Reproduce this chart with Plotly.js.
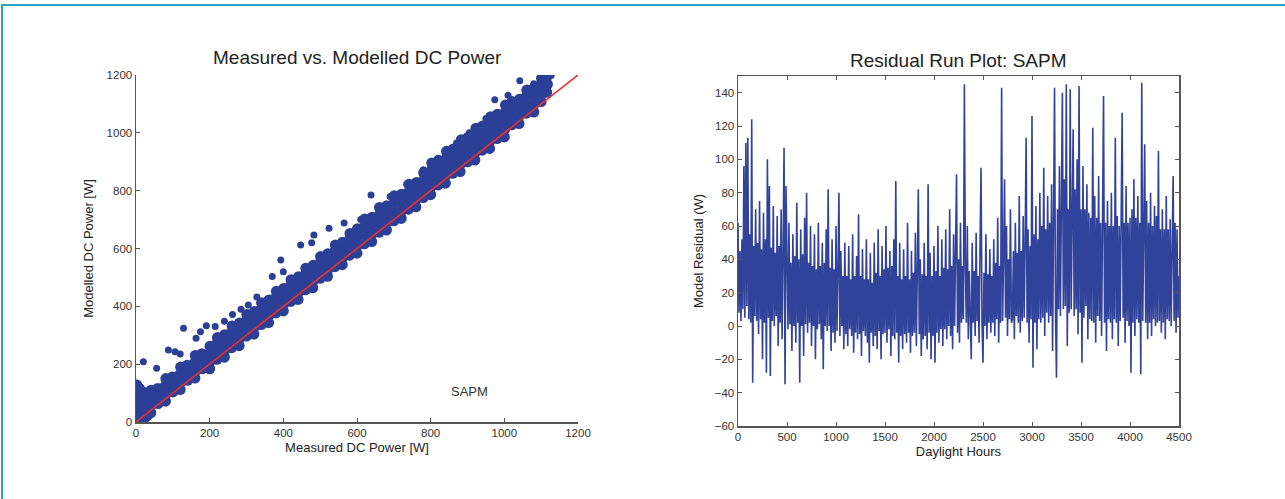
<!DOCTYPE html>
<html>
<head>
<meta charset="utf-8">
<script src="https://cdn.plot.ly/plotly-3.0.1.min.js"></script>
<style>
  html, body { margin: 0; padding: 0; background: #ffffff; }
  #frame { position: absolute; left: 1px; top: 4px; width: 1300px; height: 520px;
           border-top: 2px solid #2b9fcd; border-left: 2px solid #2b9fcd; }
  #chart { position: absolute; left: 0; top: 0; width: 1285px; height: 499px; }
</style>
</head>
<body>
<div id="frame"></div>
<div id="chart"></div>
<script>
// ---------- Left panel: measured vs modelled DC power (W) ----------
const measuredW = [
  0,1,0,2,1,3,2, 5,6,4,7,5,8, 10,11,12,10,13,11, 18,17,20,19,21, 24,26,25,27, 30,31,33,32,
  40,42,39,41, 60,62,59, 80,82,79,81, 100,102,99, 120,122,119,121, 140,142,139, 160,162,159,161, 180,182,179,
  200,202,199,201, 220,222,219,221, 240,242,239,241, 260,262,259,261, 280,282,279,281,
  300,302,299,301, 320,322,319,321, 340,342,339,341, 360,362,359,361, 380,382,379,381,
  400,402,399,401, 420,422,419,421, 440,442,439,441, 460,462,459,461, 480,482,479,481,
  500,502,499,501, 520,522,519,521, 540,542,539,541, 560,562,559,561, 580,582,579,581,
  600,602,599,601, 620,622,619,621, 640,642,639,641, 660,662,659,661, 680,682,679,681,
  700,702,699,701, 720,722,719,721, 740,742,739,741, 760,762,759,761, 780,782,779,781,
  800,802,799,801,803, 820,822,819,821, 840,842,839,841,843, 860,862,859,861, 880,882,879,881,883,
  900,902,899,901, 920,922,919,921,923, 940,942,939,941, 960,962,959,961,963, 980,982,979,981,
  1000,1002,999,1001,1003, 1020,1022,1019,1021, 1040,1042,1039,1041, 1060,1062,1059,1061,
  1080,1082,1079,1081, 1100,1102,1099,1101, 1115,1117,1114
];
const modelledW = [
  0,18,40,62,85,108,128, 5,30,52,75,98,118, 3,24,46,70,92,112, 10,35,58,80,102, 15,40,64,88, 22,48,70,95,
  32,58,84,110, 64,90,116, 72,98,124,150, 104,130,156, 112,138,164,190, 144,170,196, 152,178,204,230, 184,210,236,
  184,210,236,262, 217,243,269,292, 224,250,276,302, 257,283,309,332, 264,290,316,342,
  297,323,349,372, 304,330,356,382, 337,363,389,412, 344,370,396,422, 377,403,429,452,
  384,410,436,462, 417,443,469,492, 424,450,476,502, 457,483,509,532, 464,490,516,542,
  497,523,549,572, 504,530,556,582, 537,563,589,612, 544,570,596,622, 577,603,629,652,
  584,612,640,668, 616,646,674,702, 624,652,680,708, 656,686,714,742, 664,692,720,748,
  696,726,754,782, 704,732,760,788, 736,766,794,822, 744,772,800,828, 776,806,834,862,
  786,814,842,870,896, 820,848,876,904, 826,854,882,910,936, 860,888,916,944, 866,894,922,950,976,
  900,928,956,984, 906,934,962,990,1016, 940,968,996,1024, 946,974,1002,1030,1056, 980,1008,1036,1064,
  986,1014,1042,1070,1096, 1028,1056,1084,1108, 1032,1060,1088,1116, 1068,1096,1124,1148,
  1072,1100,1128,1156, 1108,1136,1164,1188, 1140,1168,1190
];
const outlierMeasuredW = [20,56,88,106,129,191,163,120,175,215,240,262,285,305,328,370,393,400,447,477,483,524,565,638,610,690,735,780,820,870,905,950,974,1010,1042,1080,1127];
const outlierModelledW = [208,186,249,243,324,333,290,235,312,330,348,372,390,405,432,503,560,520,612,620,647,670,688,785,700,780,822,872,912,965,1000,1050,1114,1130,1180,1170,1198];
const referenceLineW = [0, 1200];
const powerTicks = [0, 200, 400, 600, 800, 1000, 1200];

// ---------- Right panel: residual run plot (W), one value every 10 daylight hours ----------
const residualW = [
  62,8,45,3,52,10,96,5,110,12,
  113,4,55,2,124,-34,48,6,70,3,
  50,-5,75,4,46,-20,68,2,52,-28,
  100,5,84,-30,47,3,72,0,44,6,
  66,-12,48,2,70,-8,45,107,-35,84,
  40,-2,62,1,38,-15,55,0,42,-10,
  74,2,40,-34,58,0,43,-18,65,1,
  80,-4,38,2,60,-12,36,0,55,-20,
  34,-2,62,1,36,-8,50,-26,38,0,
  58,-3,82,0,35,-15,52,-4,34,-10,
  60,-3,32,80,-6,45,0,30,-14,50,
  -5,30,-12,48,-2,28,-6,55,-16,30,
  -4,42,-8,67,-5,30,-18,46,-3,28,
  -6,52,-10,28,-22,44,-4,26,-12,50,
  -6,32,-14,58,-3,30,-20,48,-5,34,
  -4,60,-10,35,-2,45,-18,36,-6,52,
  -8,87,-4,30,-22,50,-6,28,-14,46,
  -5,30,-10,62,-4,28,-16,45,-6,32,
  -4,56,-12,33,82,-5,40,-18,31,-8,
  50,-6,30,-14,85,-4,44,-20,30,-6,
  48,-22,33,-4,60,-10,30,-2,52,-12,
  35,-2,58,-8,34,0,70,-6,36,-14,
  55,0,38,91,-4,40,-10,62,2,36,
  4,145,35,2,60,-8,33,3,-20,50,
  2,33,-6,56,3,30,-10,48,95,2,
  -22,32,0,55,-8,31,2,46,-4,30,
  2,52,-6,38,4,65,-10,36,2,143,
  3,42,88,5,60,-6,40,4,70,2,
  4,45,-8,62,6,44,2,78,-4,45,
  3,66,5,50,113,2,58,-10,48,4,
  126,-25,55,2,72,-14,52,4,80,2,
  60,5,95,-6,58,8,78,2,62,6,
  85,-15,65,143,8,-31,70,10,96,6,
  72,140,10,88,12,145,-12,70,8,142,
  10,75,118,6,82,10,100,-5,144,8,
  70,-22,96,5,70,12,85,-8,68,4,
  65,3,119,2,78,-10,65,6,90,3,
  62,-6,88,138,2,62,-15,75,4,60,
  2,80,-8,60,4,113,2,66,-12,60,
  3,72,128,5,62,-10,84,3,62,0,
  65,-28,70,2,88,-6,65,4,78,2,
  62,-29,146,3,62,109,2,75,-8,62,
  2,80,-6,60,4,72,0,66,2,105,
  3,58,-4,70,2,58,-8,78,4,58,
  3,64,0,58,90,3,62,-4,58,5,
  30
];
const hoursTicks = [0, 500, 1000, 1500, 2000, 2500, 3000, 3500, 4000, 4500];
const residualTicks = [-60, -40, -20, 0, 20, 40, 60, 80, 100, 120, 140];

const navy = '#2c3f96';
const axisGrey = '#555555';
const font = 'Liberation Sans, Arial, sans-serif';

const traces = [
  { type: 'scatter', mode: 'markers', x: measuredW, y: modelledW, xaxis: 'x', yaxis: 'y',
    marker: { color: navy, size: 11, line: { width: 0 } }, hoverinfo: 'skip' },
  { type: 'scatter', mode: 'markers', x: outlierMeasuredW, y: outlierModelledW, xaxis: 'x', yaxis: 'y',
    marker: { color: navy, size: 7, line: { width: 0 } }, hoverinfo: 'skip' },
  { type: 'scatter', mode: 'lines', x: referenceLineW, y: referenceLineW, xaxis: 'x', yaxis: 'y',
    line: { color: '#e8302c', width: 1.6 }, hoverinfo: 'skip' },
  { type: 'scatter', mode: 'lines', y: residualW, x0: 0, dx: 10, xaxis: 'x2', yaxis: 'y2',
    line: { color: '#31429a', width: 1.6 }, hoverinfo: 'skip' }
];

const tickFont = { family: font, size: 11.5, color: '#333333' };
const axTitleFont = { family: font, size: 13, color: '#222222' };

const layout = {
  width: 1285, height: 499,
  margin: { l: 0, r: 0, t: 0, b: 0 },
  paper_bgcolor: 'rgba(0,0,0,0)', plot_bgcolor: '#ffffff',
  showlegend: false,
  font: { family: font },
  xaxis: {
    domain: [136/1285, 578/1285], range: [0, 1200], tickvals: powerTicks,
    showgrid: false, zeroline: false, showline: true, linecolor: axisGrey, linewidth: 1.5,
    ticks: 'inside', ticklen: 4, tickcolor: axisGrey, tickfont: tickFont,
    title: { text: 'Measured DC Power [W]', font: axTitleFont, standoff: 4 }, anchor: 'y'
  },
  yaxis: {
    domain: [1 - 422/499, 1 - 75/499], range: [0, 1200], tickvals: powerTicks,
    showgrid: false, zeroline: false, showline: true, linecolor: axisGrey, linewidth: 1.5,
    ticks: 'inside', ticklen: 4, tickcolor: axisGrey, tickfont: tickFont,
    title: { text: 'Modelled DC Power [W]', font: axTitleFont, standoff: 10 }, anchor: 'x'
  },
  xaxis2: {
    domain: [738/1285, 1179/1285], range: [0, 4500], tickvals: hoursTicks,
    showgrid: false, zeroline: false, showline: true, mirror: 'ticks', linecolor: axisGrey, linewidth: 1.5,
    ticks: 'inside', ticklen: 4, tickcolor: axisGrey, tickfont: tickFont,
    title: { text: 'Daylight Hours', font: axTitleFont, standoff: 4 }, anchor: 'y2'
  },
  yaxis2: {
    domain: [1 - 426/499, 1 - 76/499], range: [-60, 150], tickvals: residualTicks,
    showgrid: false, zeroline: false, showline: true, mirror: 'ticks', linecolor: axisGrey, linewidth: 1.5,
    ticks: 'inside', ticklen: 4, tickcolor: axisGrey, tickfont: tickFont,
    title: { text: 'Model Residual (W)', font: axTitleFont, standoff: 8 }, anchor: 'x2'
  },
  annotations: [
    { text: 'Measured vs. Modelled DC Power', xref: 'paper', yref: 'paper',
      x: 357/1285, y: 1 - 57/499, xanchor: 'center', yanchor: 'middle', showarrow: false,
      font: { family: font, size: 19, color: '#222222' } },
    { text: 'Residual Run Plot: SAPM', xref: 'paper', yref: 'paper',
      x: 958/1285, y: 1 - 60/499, xanchor: 'center', yanchor: 'middle', showarrow: false,
      font: { family: font, size: 19, color: '#222222' } },
    { text: 'SAPM', xref: 'x', yref: 'y', x: 905, y: 105, xanchor: 'center', yanchor: 'middle',
      showarrow: false, font: { family: font, size: 13, color: '#333333' } }
  ]
};

Plotly.newPlot('chart', traces, layout, { staticPlot: true, displayModeBar: false });
</script>
</body>
</html>
